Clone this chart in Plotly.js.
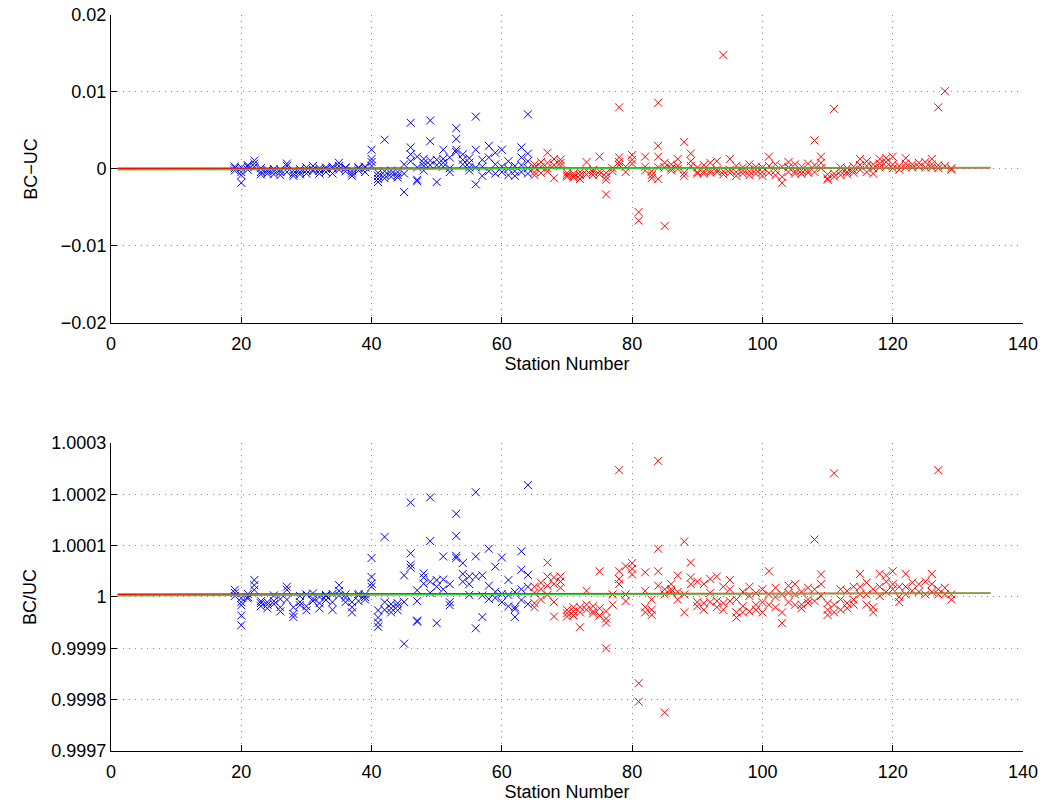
<!DOCTYPE html>
<html>
<head>
<meta charset="utf-8">
<script src="https://cdn.plot.ly/plotly-3.0.1.min.js"></script>
<style>html,body{margin:0;padding:0;background:#fff;}#chart{width:1063px;height:805px;}</style>
</head>
<body>
<div id="chart"></div>
<script>
// ---- data ----
const blueStations = [19,20,21,22,23,24,25,26,27,28,29,30,31,32,33,34,35,36,37,38,39,40,41,42,43,44,45,46,47,48,49,50,51,52,53,54,55,56,57,58,59,60,61,62,63,64];
const redStations = [65,66,67,68,69,70,71,72,73,74,75,76,77,78,79,80,81,82,83,84,85,86,87,88,89,90,91,92,93,94,95,96,97,98,99,100,101,102,103,104,105,106,107,108,109,110,111,112,113,114,115,116,117,118,119,120,121,122,123,124,125,126,127,128,129];

// BC-UC (top panel), several bottles per station
const diffBlue = [
 [0.0003,0.0001,-0.0002],[0.0002,-0.0004,-0.0008,-0.0018],[0.0003,-0.0001,0.0005],[0.0011,0.0007,0.0003],
 [0.0001,-0.0004,-0.0007],[-0.0006,-0.0003,-0.0001],[-0.0007,-0.0003,0.0],[-0.0008,-0.0004,-0.0001],
 [0.0007,0.0004,-0.0004],[-0.0009,-0.0006,-0.0002],[-0.0004,-0.0007,0.0],[-0.0006,-0.0002,0.0002],
 [0.0004,-0.0003,-0.0001],[-0.0006,-0.0002,0.0001],[0.0002,-0.0004,0.0],[0.0003,0.0001,-0.0006],
 [0.0008,0.0004,-0.0001],[0.0001,-0.0003,0.0002],[-0.0009,-0.0006,-0.0003],[0.0002,-0.0002,0.0001],
 [0.0002,-0.0004,0.0003],[0.0025,0.0013,0.0009,0.0004],[-0.0005,-0.0009,-0.0013,-0.0017],[0.0038,-0.0003,-0.0008,-0.0012],
 [-0.0002,-0.0006,-0.0010],[-0.0004,-0.0008,-0.0011],[0.0006,-0.0006,-0.0030],[0.0060,0.0028,0.0019,0.0010],
 [0.0016,0.0002,-0.0014,-0.0016],[0.0013,0.0008,0.0004,-0.0002],[0.0063,0.0036,0.0011,0.0005],[0.0012,0.0005,-0.0017],
 [0.0025,0.0013,0.0008,0.0003],[0.0015,0.0001,-0.0004],[0.0053,0.0039,0.0025,0.0022],[0.0019,0.0012,0.0006],
 [0.0014,0.0008,0.0002,-0.0002],[0.0068,0.0025,0.0002,-0.0020],[0.0012,0.0003,-0.0009],[0.0030,0.0015,-0.0003],
 [0.0021,0.0006,-0.0006],[0.0025,0.0003,-0.0004],[0.0010,0.0000,-0.0008],[0.0004,-0.0003,-0.0009],
 [0.0028,0.0015,0.0005,-0.0004],[0.0071,0.0020,0.0010,0.0001,-0.0006]
];
const diffRed = [
 [0.0006,0.0002,-0.0004,-0.0008],[0.0009,0.0003,-0.0005],[0.0021,0.0008,0.0001,-0.0003],[0.0013,0.0005,-0.0012],
 [0.0012,0.0008,0.0004],[-0.0008,-0.0010,-0.0005],[-0.0009,-0.0006,-0.0011],[-0.0004,-0.0013,-0.0008],
 [0.0009,-0.0002,-0.0007],[-0.0004,-0.0008,-0.0001],[0.0016,-0.0003,-0.0007],[-0.0033,-0.0010,-0.0014,-0.0005],
 [0.0001,-0.0003],[0.0080,0.0015,0.0009,0.0005],[0.0003,-0.0004],[0.0018,0.0012,0.0007],
 [-0.0056,-0.0067],[0.0016,0.0003,-0.0002],[-0.0003,-0.0008,-0.0012],[0.0086,0.0030,0.0016,0.0002,-0.0013],
 [-0.0074,0.0008,0.0002],[0.0006,0.0001,-0.0002],[0.0013,0.0004,0.0000],[0.0035,-0.0005,-0.0009],
 [0.0020,0.0010,0.0004],[0.0002,-0.0004,-0.0006],[0.0005,-0.0003,-0.0006],[0.0008,-0.0002,-0.0005],
 [0.0010,-0.0004,-0.0001],[0.0148,-0.0003,-0.0007],[0.0013,-0.0001,-0.0005],[0.0004,-0.0009,-0.0004],
 [-0.0002,-0.0006,0.0002],[0.0006,-0.0003,-0.0008],[0.0003,-0.0001,-0.0006],[-0.0009,-0.0004,0.0002],
 [0.0016,0.0004,-0.0005],[0.0006,-0.0002,-0.0008],[-0.0018,-0.0010,0.0003],[0.0009,0.0002,-0.0004],
 [0.0006,-0.0003,-0.0006],[0.0003,-0.0006,-0.0002],[0.0007,-0.0002,-0.0005],[0.0037,0.0005,-0.0004],
 [0.0016,0.0008,0.0001],[-0.0007,-0.0012,-0.0014],[0.0078,-0.0006,-0.0010],[-0.0003,-0.0008,0.0002],
 [0.0001,-0.0004,-0.0007],[0.0003,-0.0005,-0.0002],[0.0013,0.0005,-0.0001],[0.0010,0.0004,-0.0004],
 [0.0006,-0.0006,0.0001],[0.0013,0.0007,0.0002],[0.0014,0.0009,0.0003],[0.0016,0.0006,0.0001],
 [0.0004,-0.0001],[0.0014,0.0007,0.0002],[0.0006,0.0002],[0.0008,0.0003],
 [0.0009,0.0002],[0.0013,0.0006,0.0002],[0.0080,0.0005,0.0001],[0.0101,0.0004],[0.0001,-0.0001]
];

// BC/UC (bottom panel), given as (BC/UC - 1) in parts per million
const ratioBluePpm = [
 [14,8,2],[-2,-10,-16,-36,-55],[6,0,-3],[33,23,14],[-12,-18,-8],[-15,-22,-10],[-8,-14,3],[-20,-28,-4],
 [20,14,-5],[-33,-39,-20],[-10,-16,2],[5,-18,-26],[7,-8,-3],[-12,-22,0],[4,-6,2],[6,-10,-25],
 [23,12,3],[-2,5,-10],[-30,-20,-10],[3,-8,6],[5,-5,0],[76,39,26,20],[-26,-40,-50,-58],[117,-10,-25],
 [-14,-22,-30],[-12,-18,-26],[42,-10,-91],[184,85,63,57],[13,-8,-46,-48],[46,38,26],[194,109,30,8],[33,20,-51],
 [79,34,15],[25,-10,-16],[162,119,80,76],[66,45,30],[40,25,4],[204,79,40,-61],[42,3,-39],[94,22,-4],
 [59,10,-2],[77,6,-10],[33,4,-18],[10,-20,-39,-24],[89,53,15,-6],[218,43,20,-14]
];
const ratioRedPpm = [
 [20,8,-12,-20],[28,15,-5],[67,40,22,4],[38,25,-38,-10],[40,30,18],[-25,-32,-38],[-28,-36,-20],[-59,-30,-20],
 [12,-15,-25],[-18,-28,-32],[50,-22,-36],[-100,-42,-50,-28],[-15,5],[247,50,35,25],[60,5,-8],[66,55,44],
 [-168,-204],[48,12,-20,-30],[-5,-25,-35],[265,94,50,22],[-225,15,5],[25,15,10],[42,10,-5],[108,5,-30],
 [67,38,25],[30,-10,-18],[25,-12,-25],[35,8,-10],[40,-8,-20],[20,-12,-25],[33,15,-8],[-5,-30,-40],
 [10,-18,-30],[20,2,-28],[8,-15,-25],[15,-10,-30],[50,5,-15],[18,0,-20],[-51,-30,5],[22,8,-10],
 [25,5,-15],[10,-15,-22],[18,-5,-12],[112,15,-8],[44,25,2],[-35,-25,-12],[241,-15,-30],[15,-5,-25],
 [12,-12,-22],[20,-5,-15],[45,20,5],[28,5,-15],[15,-20,-30],[45,20,2],[42,30,10],[50,25,15],
 [20,0,-10],[45,20,5],[28,12],[25,10],[30,5],[45,25,10],[247,15,5],[18,5],[5,-5]
];

// fitted lines (start and end station, value)
const lineStations = [1, 135];
const diffRedLine = [0.0001, 0.00015];
const diffGreenLine = [-0.0001, 0.0002];
const ratioRedLine = [1.0000055, 1.0000075];
const ratioGreenLine = [1.0000025, 1.0000075];

const xTicks = [0,20,40,60,80,100,120,140];
const topTicks = [-0.02,-0.01,0,0.01,0.02];
const topTickText = ['\u22120.02','\u22120.01','0','0.01','0.02'];
const botTicks = [0.9997,0.9998,0.9999,1,1.0001,1.0002,1.0003];
const botTickText = ['0.9997','0.9998','0.9999','1','1.0001','1.0002','1.0003'];

// ---- build traces ----
function flatten(stations, groups, conv) {
  const xs = [], ys = [];
  stations.forEach((s, i) => groups[i].forEach(v => { xs.push(s); ys.push(conv ? conv(v) : v); }));
  return {x: xs, y: ys};
}
const ppm = v => 1 + v * 1e-6;
const tb = flatten(blueStations, diffBlue);
const tr = flatten(redStations, diffRed);
const bb = flatten(blueStations, ratioBluePpm, ppm);
const br = flatten(redStations, ratioRedPpm, ppm);

function pts(d, color, xa, ya) {
  return {x: d.x, y: d.y, type: 'scatter', mode: 'markers', xaxis: xa, yaxis: ya,
    marker: {symbol: 'x-thin', size: 8, color: color, line: {color: color, width: 1}}, hoverinfo: 'x+y'};
}
function ln(y, color, xa, ya) {
  return {x: lineStations, y: y, type: 'scatter', mode: 'lines', xaxis: xa, yaxis: ya,
    line: {color: color, width: 1.5}};
}
const blue = '#0000ff', red = '#ff0000', green = '#33cc33';
const traces = [
  pts(tb, blue, 'x', 'y'), pts(tr, red, 'x', 'y'),
  ln(diffRedLine, red, 'x', 'y'), ln(diffGreenLine, green, 'x', 'y'),
  pts(bb, blue, 'x2', 'y2'), pts(br, red, 'x2', 'y2'),
  ln(ratioRedLine, red, 'x2', 'y2'), ln(ratioGreenLine, green, 'x2', 'y2')
];

const font = {family: 'Liberation Sans, Arial, Helvetica, sans-serif', size: 18, color: '#000'};
const axCommon = {
  showline: true, linecolor: '#000', linewidth: 1, mirror: false,
  ticks: 'inside', ticklen: 6, tickcolor: '#000', tickwidth: 1,
  showgrid: true, gridcolor: '#8a8a8a', griddash: '1px,5px', gridwidth: 1,
  zeroline: false, tickfont: font, automargin: false
};
const xAx = (dom, anchor) => Object.assign({}, axCommon, {
  domain: [0, 1], anchor: anchor, range: [0, 140], tickmode: 'array', tickvals: xTicks,
  ticklabelstandoff: 4,
  title: {text: 'Station Number', font: font, standoff: 0}
});

const layout = {
  width: 1063, height: 805,
  margin: {l: 111, r: 40, t: 0, b: 0},
  paper_bgcolor: '#fff', plot_bgcolor: '#fff',
  showlegend: false, font: font,
  xaxis: xAx(null, 'y'),
  yaxis: Object.assign({}, axCommon, {
    domain: [0.5988, 0.9814], anchor: 'x', range: [-0.02, 0.02],
    tickmode: 'array', tickvals: topTicks, ticktext: topTickText,
    title: {text: 'BC\u2212UC', font: font, standoff: 18}
  }),
  xaxis2: xAx(null, 'y2'),
  yaxis2: Object.assign({}, axCommon, {
    domain: [0.0671, 0.4497], anchor: 'x2', range: [0.9997, 1.0003],
    tickmode: 'array', tickvals: botTicks, ticktext: botTickText,
    title: {text: 'BC/UC', font: font, standoff: 10}
  })
};

Plotly.newPlot('chart', traces, layout, {displayModeBar: false, staticPlot: true});
</script>
</body>
</html>
